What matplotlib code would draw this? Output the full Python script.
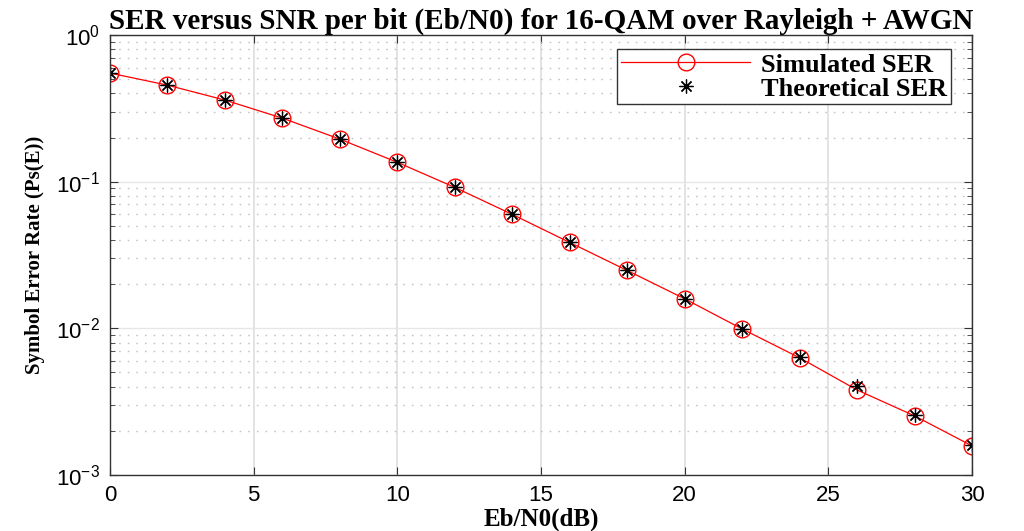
import matplotlib.pyplot as plt
import matplotlib.ticker as ticker

plt.rcParams['axes.unicode_minus'] = False

# Eb/N0 points in dB and the error rates for 16-QAM over a Rayleigh channel
ebn0_db = [0, 2, 4, 6, 8, 10, 12, 14, 16, 18, 20, 22, 24, 26, 28, 30]
ser_sim = [0.55, 0.455, 0.36, 0.271, 0.195, 0.1355, 0.0914, 0.0598, 0.0385,
           0.0248, 0.0159, 0.0099, 0.0063, 0.0038, 0.00253, 0.00158]
ser_theory = [0.55, 0.455, 0.36, 0.271, 0.195, 0.1355, 0.0914, 0.0598, 0.0385,
              0.0248, 0.0159, 0.0099, 0.0064, 0.00406, 0.00256, 0.00160]

fig = plt.figure(figsize=(10.24, 5.31), dpi=100)
ax = fig.add_axes([110/1024, 1 - 475/531, 862/1024, 440/531])

ax.semilogy(ebn0_db, ser_sim, color='red', marker='o', markersize=12,
            markerfacecolor='none', markeredgecolor='red', linewidth=0.9,
            label='Simulated SER')
ax.semilogy(ebn0_db, ser_theory, linestyle='none', marker=(8, 2, 0), color='black',
            markersize=10, markeredgewidth=0.9, label='Theoretical SER')

ax.set_xlim(0, 30)
ax.set_ylim(1e-3, 1)
ax.xaxis.set_major_locator(ticker.MultipleLocator(5))
ax.yaxis.set_major_locator(ticker.LogLocator(base=10, numticks=10))
ax.yaxis.set_minor_locator(ticker.LogLocator(base=10, subs=range(2, 10), numticks=10))
ax.yaxis.set_minor_formatter(ticker.NullFormatter())

ax.grid(True, which='major', axis='x', color='#dedede', linewidth=1.2)
ax.grid(True, which='major', axis='y', color='#e6e6e6', linewidth=1.0)
ax.grid(True, which='minor', axis='y', color='#c4c4c4', linestyle=(0, (1.2, 5)), linewidth=1.0)
ax.set_axisbelow(True)

ax.tick_params(which='both', direction='in', top=True, right=True, color='#333333')
ax.tick_params(which='major', length=6, labelsize=16, pad=7)
ax.tick_params(which='minor', length=3.5)
for lbl in ax.get_xticklabels() + ax.get_yticklabels():
    lbl.set_fontfamily('Liberation Sans')
for sp in ax.spines.values():
    sp.set_color('#333333')
    sp.set_linewidth(1.0)

ax.set_title('SER versus SNR per bit (Eb/N0) for 16-QAM over Rayleigh + AWGN',
             fontsize=21, fontweight='bold', family='Liberation Serif', pad=4)
ax.set_xlabel('Eb/N0(dB)', fontsize=18, fontweight='bold', family='Liberation Serif', labelpad=1)
ax.set_ylabel('Symbol Error Rate (Ps(E))', fontsize=15, fontweight='bold',
              family='Liberation Serif', labelpad=8)

leg = ax.legend(loc='upper right', bbox_to_anchor=(0.9756, 0.968),
                prop={'family': 'Liberation Serif', 'weight': 'bold', 'size': 19},
                fancybox=False, edgecolor='#333333', framealpha=1,
                borderpad=0.15, labelspacing=0.02, handlelength=4.9,
                handletextpad=0.4, borderaxespad=0.0)
leg.get_frame().set_linewidth(1.0)

fig.savefig('out.png', dpi=100)
